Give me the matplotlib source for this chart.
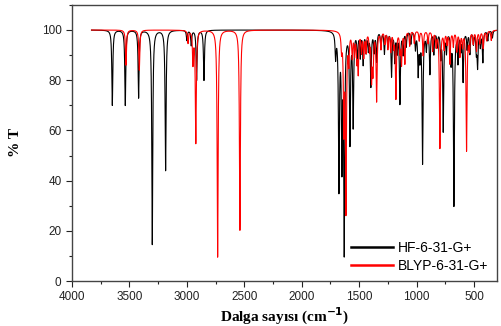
import numpy as np
import matplotlib.pyplot as plt
from matplotlib.ticker import MultipleLocator

# Calculated IR bands: position (cm-1) and transmittance at band minimum (%)
hf_pos = [3649, 3536, 3420, 3301, 3185, 3000, 2962, 2915, 2851,
          1705, 1676, 1650, 1630, 1580, 1552, 1515, 1490, 1465, 1440, 1420,
          1398, 1370, 1348, 1310, 1280, 1250, 1218, 1190, 1170, 1145, 1117,
          1090, 1050, 1010, 986, 971, 948, 915, 884, 850, 820, 790, 768,
          740, 700, 675, 640, 615, 595, 560, 536, 505, 480, 469, 445, 423, 380, 340]
hf_min = [70, 70, 73, 14.5, 44, 96, 94, 80, 80,
          90, 36, 45, 10, 55, 62, 88, 90, 87, 92, 93,
          78, 92, 88, 93, 91, 94, 82, 88, 92, 71, 91,
          94, 95, 93, 83, 90, 47, 93, 83, 91, 94, 90, 60,
          92, 88, 30, 88, 93, 80, 93, 91, 95, 92, 86, 94, 87.5, 96, 97]

blyp_pos = [3530, 3414, 2990, 2947, 2922, 2732, 2538,
            1653, 1633, 1615, 1590, 1560, 1540, 1520, 1508, 1480, 1460, 1440,
            1410, 1392, 1380, 1348, 1310, 1276, 1250, 1225, 1200, 1180, 1145,
            1131, 1102, 1060, 1020, 977, 943, 900, 860, 830, 797, 760, 735,
            710, 680, 650, 623, 600, 565, 540, 507, 478, 450, 420, 390, 350]
blyp_min = [86, 84, 95, 87, 55, 9.5, 20.2,
            93, 60, 27, 88, 90, 91, 89, 84, 92, 90, 92,
            93, 81, 84, 72, 93, 95, 93, 92, 94, 73, 92,
            87, 87, 94, 95, 96, 90, 95, 92, 94, 53, 93, 95,
            87, 94, 92, 90, 94, 52, 93, 95, 92, 95, 93, 96, 96]

HWHM = 5.0
wn = np.arange(3830, 299.5, -0.5)


def spectrum(pos, tmin):
    t = np.ones_like(wn)
    for p, m in zip(pos, tmin):
        depth = (100 - m) / 100
        t *= 1 - depth / (1 + ((wn - p) / HWHM) ** 2)
    return 100 * t


fig = plt.figure(figsize=(5.02, 3.26), dpi=100)
ax = fig.add_axes([0.1434, 0.138, 0.8466, 0.847])

ax.plot(wn, spectrum(hf_pos, hf_min), color='black', lw=0.8, label='HF-6-31-G+')
ax.plot(wn, spectrum(blyp_pos, blyp_min), color='red', lw=0.8, label='BLYP-6-31-G+')

ax.set_xlim(4000, 300)
ax.set_ylim(0, 110)
ax.xaxis.set_major_locator(MultipleLocator(500))
ax.xaxis.set_minor_locator(MultipleLocator(250))
ax.set_yticks([0, 20, 40, 60, 80, 100])
ax.yaxis.set_minor_locator(MultipleLocator(10))
ax.tick_params(which='major', direction='out', length=4, width=0.8,
               labelsize=8.5, colors='#222222')
ax.tick_params(which='minor', direction='out', length=2.5, width=0.8, colors='#222222')
for lab in ax.get_xticklabels() + ax.get_yticklabels():
    lab.set_fontfamily('Liberation Sans')
for s in ax.spines.values():
    s.set_color('#444444')
    s.set_linewidth(1.0)

ax.set_xlabel('Dalga sayısı (cm$^{\\mathbf{-1}}$)', fontfamily='Liberation Serif',
              fontweight='bold', fontsize=11, labelpad=2)
ax.set_ylabel('% T', fontfamily='Liberation Serif', fontweight='bold',
              fontsize=11, labelpad=14)

leg = ax.legend(loc='lower right', frameon=False, handlelength=3.0,
                prop={'family': 'Liberation Sans', 'size': 10},
                borderaxespad=0.2, handletextpad=0.4, labelspacing=0.25)
for line in leg.get_lines():
    line.set_linewidth(1.8)

fig.savefig('out.png', dpi=100)
